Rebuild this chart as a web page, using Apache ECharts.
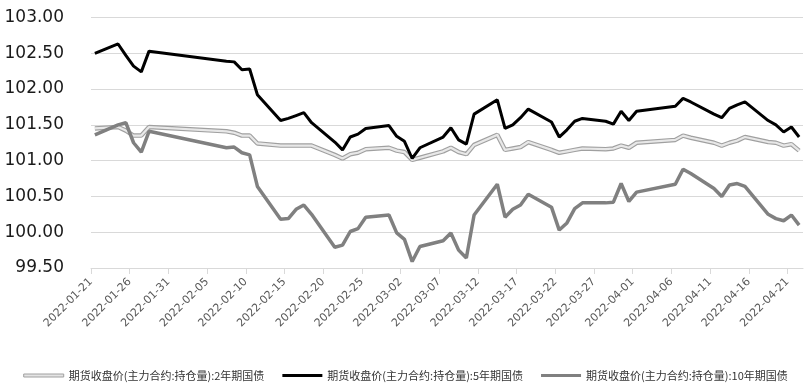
<!DOCTYPE html>
<html><head><meta charset="utf-8">
<script src="https://cdn.jsdelivr.net/npm/echarts@6/dist/echarts.min.js"></script>
<style>html,body{margin:0;padding:0;background:#fff}#c{width:811px;height:392px}</style>
</head><body><div id="c"></div>
<script>
const dates = ['2022-01-21','2022-01-24','2022-01-25','2022-01-26','2022-01-27','2022-01-28',
'2022-02-07','2022-02-08','2022-02-09','2022-02-10','2022-02-11',
'2022-02-14','2022-02-15','2022-02-16','2022-02-17','2022-02-18',
'2022-02-21','2022-02-22','2022-02-23','2022-02-24','2022-02-25',
'2022-02-28','2022-03-01','2022-03-02','2022-03-03','2022-03-04',
'2022-03-07','2022-03-08','2022-03-09','2022-03-10','2022-03-11',
'2022-03-14','2022-03-15','2022-03-16','2022-03-17','2022-03-18',
'2022-03-21','2022-03-22','2022-03-23','2022-03-24','2022-03-25',
'2022-03-28','2022-03-29','2022-03-30','2022-03-31','2022-04-01',
'2022-04-06','2022-04-07','2022-04-08',
'2022-04-11','2022-04-12','2022-04-13','2022-04-14','2022-04-15',
'2022-04-18','2022-04-19','2022-04-20','2022-04-21','2022-04-22'];

const ts2y = [101.45,101.47,101.42,101.35,101.35,101.47,
101.41,101.39,101.35,101.35,101.24,
101.21,101.21,101.21,101.21,101.21,
101.08,101.03,101.09,101.11,101.16,
101.18,101.14,101.12,101.01,101.04,
101.13,101.18,101.12,101.09,101.22,
101.36,101.15,101.17,101.19,101.26,
101.15,101.11,101.13,101.15,101.17,
101.16,101.17,101.21,101.18,101.25,
101.29,101.35,101.32,
101.25,101.21,101.25,101.28,101.33,
101.26,101.25,101.21,101.23,101.14];

const tf5y = [102.50,102.63,102.47,102.32,102.24,102.53,
102.39,102.38,102.27,102.28,101.92,
101.56,101.59,101.63,101.67,101.53,
101.26,101.15,101.33,101.37,101.45,
101.49,101.34,101.27,101.03,101.18,
101.33,101.46,101.29,101.23,101.65,
101.85,101.45,101.50,101.60,101.72,
101.54,101.33,101.43,101.55,101.59,
101.55,101.51,101.69,101.56,101.69,
101.76,101.87,101.82,
101.65,101.60,101.73,101.78,101.82,
101.56,101.50,101.40,101.47,101.33];

const t10y = [101.36,101.50,101.53,101.25,101.12,101.41,
101.18,101.19,101.11,101.08,100.64,
100.18,100.19,100.32,100.38,100.25,
99.79,99.82,100.01,100.05,100.21,
100.24,99.99,99.90,99.59,99.80,
99.88,99.99,99.75,99.64,100.24,
100.67,100.21,100.32,100.38,100.53,
100.35,100.03,100.13,100.33,100.41,
100.41,100.42,100.68,100.43,100.56,
100.67,100.88,100.82,
100.61,100.50,100.66,100.68,100.64,
100.25,100.19,100.16,100.24,100.10];

const startDate = '2022-01-21';
const endDate = '2022-04-23';
const tickStepDays = 5;
const names = ['期货收盘价(主力合约:持仓量):2年期国债','期货收盘价(主力合约:持仓量):5年期国债','期货收盘价(主力合约:持仓量):10年期国债'];

const DAY = 86400000;
const t0 = Date.parse(startDate + 'T00:00:00Z');
const dayIdx = s => (Date.parse(s + 'T00:00:00Z') - t0) / DAY;
const maxDay = dayIdx(endDate);
const tickVals = [];
for (let d = 0; d < maxDay; d += tickStepDays) tickVals.push(d);
const fmt = v => { const dt = new Date(t0 + Math.round(v) * DAY); return dt.toISOString().slice(0,10); };
const pts = arr => dates.map((s, i) => [dayIdx(s) + 0.5, arr[i]]);

const chart = echarts.init(document.getElementById('c'), null, {renderer:'canvas'});
chart.setOption({
  animation: false,
  grid: {left: 91, right: 8, top: 17.5, bottom: 124, containLabel: false},
  legend: {
    bottom: 6, left: 'center', itemWidth: 40, itemHeight: 3, itemGap: 18,
    textStyle: {fontSize: 11, color: '#333', fontFamily: 'Noto Sans CJK SC'},
    data: [
      {name: names[0], icon: 'rect', itemStyle: {color: '#e4e4e4', borderColor: '#a0a0a0', borderWidth: 1}},
      {name: names[1], icon: 'rect', itemStyle: {color: '#000'}},
      {name: names[2], icon: 'rect', itemStyle: {color: '#808080'}}
    ]
  },
  xAxis: {
    type: 'value', min: 0, max: maxDay,
    axisLine: {show: true, lineStyle: {color: '#d9d9d9'}},
    axisTick: {show: true, length: 6, lineStyle: {color: '#d9d9d9'}, customValues: tickVals},
    splitLine: {show: false},
    axisLabel: {customValues: tickVals, formatter: fmt, rotate: 45, fontSize: 11, color: '#595959', fontFamily: 'DejaVu Sans', margin: 12}
  },
  yAxis: {
    type: 'value', min: 99.5, max: 103, interval: 0.5,
    axisLine: {show: false}, axisTick: {show: false},
    splitLine: {lineStyle: {color: '#d9d9d9', width: 1}},
    axisLabel: {formatter: v => v.toFixed(2), fontSize: 17, color: '#1a1a1a', fontFamily: 'DejaVu Sans', margin: 27}
  },
  series: [
    {name: names[0], type: 'line', data: pts(ts2y), symbol: 'none', lineStyle: {color: '#a0a0a0', width: 4.5}, z: 2},
    {name: names[0] + ' ', type: 'line', data: pts(ts2y), symbol: 'none', lineStyle: {color: '#e8e8e8', width: 2.2}, z: 3},
    {name: names[1], type: 'line', data: pts(tf5y), symbol: 'none', lineStyle: {color: '#000', width: 3}, z: 4},
    {name: names[2], type: 'line', data: pts(t10y), symbol: 'none', lineStyle: {color: '#808080', width: 3.5}, z: 5}
  ]
});
</script></body></html>
